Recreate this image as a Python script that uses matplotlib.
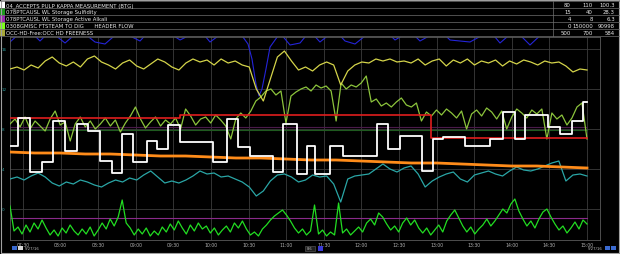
import numpy as np
import matplotlib
matplotlib.use("Agg")
import matplotlib.pyplot as plt
from matplotlib.patches import Rectangle

# ---------------- data ----------------
legend_names = ["04_ACCEPTS PULP KAPPA MEASUREMENT (BTG)",
                "078PTCAUSL WL Storage Sulfidity",
                "078PTCAUSL WL Storage Active Alkali",
                "0308GMISC FTSTEAM TO DIG      HEADER FLOW",
                "OCC-HD-Free:OCC HD FREENESS"]
legend_lo = ["80", "15", "4", "0", "500"]
legend_hi = ["110", "40", "8", "150000", "700"]
legend_val = ["100.3", "28.3", "6.3", "90998", "584"]
legend_colors = ["#ffffff", "#1f9a1f", "#9a2ab0", "#7dff1a", "#a8a838"]

time_labels = ["07:30", "08:00", "08:30", "09:00", "09:30", "10:00", "10:30", "11:00",
               "11:30", "12:00", "12:30", "13:00", "13:30", "14:00", "14:30", "15:00"]
ytick_vals = [16, 12, 8, 4, 0]

t_start, t_end = 7.327, 15.0

yellow = [14.0,14.2,13.9,14.4,14.1,14.8,15.2,14.6,14.3,14.7,14.2,15.0,15.3,14.7,14.4,14.0,
          14.6,14.9,14.3,14.0,14.5,15.0,14.7,14.2,13.9,14.6,15.0,14.7,14.9,14.4,15.0,14.6,
          14.8,14.4,14.2,12.0,10.8,13.0,15.2,15.8,14.8,13.9,14.2,13.8,14.4,14.7,14.4,12.4,
          13.8,14.4,14.7,14.6,15.0,14.8,15.0,14.7,14.8,14.6,15.0,14.4,14.8,15.0,14.3,14.9,
          14.6,15.0,14.4,14.8,14.6,14.9,14.3,14.8,14.5,14.9,14.7,14.4,14.8,14.6,14.7,14.3,
          13.7,14.0,13.9]

yellowgreen = [8.5,9.0,8.2,9.2,8.0,8.8,8.3,7.8,9.0,9.8,8.4,8.7,6.8,8.5,9.2,8.2,8.8,8.0,8.5,
               9.1,8.3,8.9,7.7,8.6,9.3,10.2,9.0,8.1,8.7,9.2,8.3,8.9,8.5,9.1,8.0,10.0,9.3,8.4,
               9.0,9.2,8.6,9.4,8.9,8.3,7.0,9.0,9.6,9.1,9.8,10.8,11.2,11.8,12.0,11.4,11.8,8.6,
               11.3,11.7,12.0,12.2,11.8,12.4,12.1,12.3,11.8,8.8,12.6,12.0,12.4,12.2,12.6,13.3,
               10.7,11.0,10.3,10.6,10.2,10.7,11.1,10.4,10.2,10.6,8.8,9.7,9.3,9.9,9.4,10.0,9.6,
               9.1,9.8,8.0,9.5,9.9,9.3,10.1,9.7,9.0,9.8,8.0,9.2,10.0,9.6,9.1,9.9,9.5,10.0,7.0,
               9.6,9.0,9.4,8.4,9.1,10.2,10.6,7.0]

cyan = [3.0,3.2,2.9,3.3,3.6,3.2,2.6,2.3,2.7,2.5,2.9,2.7,2.4,2.2,2.6,2.9,2.7,3.1,2.9,3.4,3.8,
        3.2,2.6,2.8,2.6,2.9,3.3,3.8,3.5,3.6,3.2,3.3,3.0,2.7,2.2,1.3,1.8,2.8,3.4,3.5,3.2,2.7,
        2.9,3.4,3.2,3.3,2.5,0.7,3.0,3.3,3.4,3.5,4.0,4.5,4.0,3.7,4.1,4.3,3.5,2.2,2.8,3.2,3.5,
        3.7,3.0,2.7,3.4,3.6,3.8,3.5,3.3,3.8,4.2,3.9,3.8,4.0,4.3,4.6,4.8,2.8,3.4,3.5,3.3]

orange = [5.7,5.6,5.6,5.5,5.5,5.4,5.3,5.3,5.2,5.1,5.1,5.0,4.9,4.9,4.8,4.7,4.6,4.6,4.5,4.4,
          4.3,4.3,4.2,4.1]

bright_green = [0.3,-2.2,-1.8,-2.5,-1.6,-2.3,-1.4,-2.0,-1.1,-1.9,-2.6,-2.1,-2.7,-1.9,-2.4,-1.6,
                -2.2,-2.6,-2.0,-2.5,-1.8,-2.7,-2.1,-1.4,-2.0,-1.0,-1.7,-0.8,0.9,-1.4,-1.9,-2.6,
                -2.0,-2.5,-1.9,-2.7,-2.2,-2.6,-1.8,-2.3,-1.5,-2.1,-1.2,-1.9,-2.5,-1.6,-2.2,-1.4,
                -2.0,-1.7,-2.4,-1.9,-2.6,-2.1,-1.7,-2.3,-1.4,-1.9,-1.2,-2.0,-2.6,-2.3,-2.7,-2.0,
                -1.6,-1.1,-0.7,-0.4,-0.1,-0.6,-1.2,-1.9,-2.4,-2.0,-2.6,-2.2,0.4,-2.5,-2.1,-2.7,
                -2.3,-2.6,0.6,-2.4,-2.0,-2.6,-2.2,-1.8,-2.3,-1.4,-1.0,-1.6,-0.4,-0.8,-1.5,-2.1,
                -1.7,-2.3,-1.4,-0.9,-1.6,-1.1,-1.9,-2.4,-1.9,-2.6,-2.1,-1.6,-2.3,-1.2,-0.6,-0.1,
                -0.9,-1.7,-2.3,-1.8,-2.5,-2.0,-1.6,-1.0,-1.7,-1.2,-0.6,0.0,-0.4,0.5,1.0,-0.2,
                -1.0,-1.7,-1.2,-1.9,-1.0,-0.3,0.0,-0.8,-1.5,-2.1,-1.7,-2.4,-1.9,-1.3,-2.0,-1.1,
                -1.5]

blue_t = [7.327,7.460,7.593,7.726,7.859,8.059,8.258,8.457,8.590,8.790,9.056,9.189,9.388,9.588,
          9.854,9.987,10.186,10.386,10.492,10.545,10.598,10.638,10.678,10.731,10.785,10.918,
          11.051,11.184,11.316,11.449,11.649,11.782,11.915,12.114,12.314,12.447,12.646,12.779,
          13.045,13.178,13.444,13.710,13.843,14.043,14.242,14.441,14.641,15.0]
blue_v = [16.7,17.6,17.8,16.8,17.8,16.6,17.9,16.7,16.5,17.8,16.8,17.9,17.9,16.9,17.9,16.7,17.8,
          17.6,16.5,15.0,12.5,11.3,12.0,14.0,16.2,17.6,16.4,16.6,17.8,16.7,17.9,16.8,16.5,17.7,
          17.9,16.9,17.8,16.8,17.9,16.9,16.7,17.8,16.6,17.9,16.4,17.8,17.9,17.9]

kappa_t = [7.327,7.434,7.593,7.753,7.899,8.059,8.218,8.364,8.524,8.684,8.817,8.963,9.149,9.282,
           9.428,9.588,10.027,10.213,10.359,10.519,10.824,10.957,11.144,11.277,11.383,11.582,
           11.755,12.207,12.354,12.513,12.806,12.952,13.085,13.378,13.710,13.883,14.043,14.176,
           14.481,14.641,14.801,14.947,15.0]
kappa_v = [6.3,9.1,3.7,4.7,8.8,5.8,8.5,7.8,4.8,3.6,7.5,4.7,6.8,6.0,8.4,6.7,4.7,9.0,6.2,5.3,3.7,
           8.5,3.5,6.3,3.5,6.3,5.3,8.5,6.0,7.3,3.8,7.0,7.2,6.3,7.0,9.7,7.0,9.4,8.2,7.5,8.8,10.7,
           10.7]

red_t = [7.327, 9.588, 12.93, 15.0]
red_v = [9.1, 9.4, 7.1, 7.1]

sulf_level = 7.9
aa_level_hi = 8.2
aa_level_lo = -0.9

# ---------------- figure ----------------
W, H = 620, 255
fig = plt.figure(figsize=(W / 100, H / 100), dpi=100, facecolor="black")

def fx(px):
    return px / W

def fy(py):
    return 1 - py / H

ax_l, ax_r, ax_t, ax_b = 10, 600, 38, 241
ax = fig.add_axes([fx(ax_l), fy(ax_b), fx(ax_r - ax_l), fy(ax_t) - fy(ax_b)])
ax.set_facecolor("black")
x_lo, x_hi = 7.327, 7.5 + (ax_r - 23) / 75.2
ax.set_xlim(x_lo, x_hi)
ax.set_ylim(-3.1, 17.2)

# grid
tick_pos = 7.5 + 0.5 * np.arange(len(time_labels))
for tp in tick_pos:
    ax.axvline(tp, color="#3c3c3c", lw=0.6, zorder=1)
for yv in ytick_vals:
    ax.axhline(yv, color="#3c3c3c", lw=0.6, zorder=1)
for s in ax.spines.values():
    s.set_color("#5a5a5a")
    s.set_linewidth(0.6)
ax.set_xticks([])
ax.set_yticks([])

def tgrid(vals):
    return np.linspace(t_start, t_end, len(vals))

frac_end = (t_end - x_lo) / (x_hi - x_lo)
ax.plot(blue_t, blue_v, color="#2424d8", lw=0.8, zorder=2)
ax.axhline(sulf_level, color="#1f5a1f", lw=0.8, zorder=2, xmax=frac_end)
ax.axhline(aa_level_hi, color="#4a1a4a", lw=0.8, zorder=2, xmax=frac_end)
ax.axhline(aa_level_lo, color="#8a2a8a", lw=0.8, zorder=2, xmax=frac_end)
ax.plot(tgrid(bright_green), bright_green, color="#22dd22", lw=0.9, zorder=3)
ax.plot(tgrid(cyan), cyan, color="#2aa6a6", lw=0.9, zorder=3)
ax.plot(tgrid(orange), orange, color="#ff8c1a", lw=2.0, zorder=4)
ax.plot(tgrid(yellowgreen), yellowgreen, color="#8cc43c", lw=0.9, zorder=3)
ax.plot(tgrid(yellow), yellow, color="#d4d44a", lw=0.9, zorder=3)
ax.step(red_t, red_v, where="post", color="#e01e1e", lw=1.2, zorder=5)
ax.step(kappa_t, kappa_v, where="post", color="#ffffff", lw=1.3, zorder=6)

# time labels
for tp, lab in zip(tick_pos, time_labels):
    ax.text(tp, -0.012, lab, transform=ax.get_xaxis_transform(), color="#b0b0b0",
            fontsize=3.3, ha="center", va="top")

# ---------------- header & frame ----------------
ov = fig.add_axes([0, 0, 1, 1], facecolor="none")
ov.set_xlim(0, W)
ov.set_ylim(H, 0)
ov.axis("off")

# y tick labels (left, teal), positioned via the data axis transform
for yv in ytick_vals:
    ypix = ax.transData.transform((x_lo, yv))[1]
    ov.text(2, H - ypix, str(yv), color="#2a9a9a", fontsize=3.0, ha="left", va="center")

row_top, row_h = 2, 7
for i, name in enumerate(legend_names):
    y0 = row_top + i * row_h
    ov.add_patch(Rectangle((0, y0), 5, row_h, facecolor=legend_colors[i], edgecolor="none"))
    ov.plot([0, W], [y0, y0], color="#707070", lw=0.5)
    ov.text(6, y0 + row_h / 2 + 0.3, name, color="#e8e8e8", fontsize=3.9, va="center", ha="left")
    ov.text(571, y0 + row_h / 2 + 0.3, legend_lo[i], color="#e8e8e8", fontsize=3.9, va="center", ha="right")
    ov.text(593, y0 + row_h / 2 + 0.3, legend_hi[i], color="#e8e8e8", fontsize=3.9, va="center", ha="right")
    ov.text(615, y0 + row_h / 2 + 0.3, legend_val[i], color="#e8e8e8", fontsize=3.9, va="center", ha="right")
ov.plot([0, W], [row_top + 5 * row_h, row_top + 5 * row_h], color="#707070", lw=0.5)
ov.plot([553, 553], [row_top, row_top + 5 * row_h], color="#707070", lw=0.5)

# bottom status bar items
ov.add_patch(Rectangle((12, 247), 5, 4, facecolor="#3a6ad0", edgecolor="none"))
ov.add_patch(Rectangle((18, 247), 5, 4, facecolor="#d8d8d8", edgecolor="none"))
ov.text(25, 249.2, "5/27/16", color="#c0c0c0", fontsize=2.8, va="center", ha="left")
ov.add_patch(Rectangle((305, 247), 10, 4.5, facecolor="#202020", edgecolor="#606060", lw=0.4))
ov.text(310, 249.3, "8.6", color="#c0c0c0", fontsize=2.6, va="center", ha="center")
ov.add_patch(Rectangle((318, 247), 5, 4.5, facecolor="#3a3ad8", edgecolor="none"))
ov.text(603, 249.2, "5/27/16", color="#c0c0c0", fontsize=2.8, va="center", ha="right")
ov.add_patch(Rectangle((605, 247), 5, 4, facecolor="#3a6ad0", edgecolor="none"))
ov.add_patch(Rectangle((611, 247), 5, 4, facecolor="#3a6ad0", edgecolor="none"))

# outer frame
ov.add_patch(Rectangle((0.5, 0.5), W - 1.5, H - 1.5, facecolor="none", edgecolor="#a0a0a0", lw=0.8))

fig.savefig("out.png", dpi=100, facecolor="black")
